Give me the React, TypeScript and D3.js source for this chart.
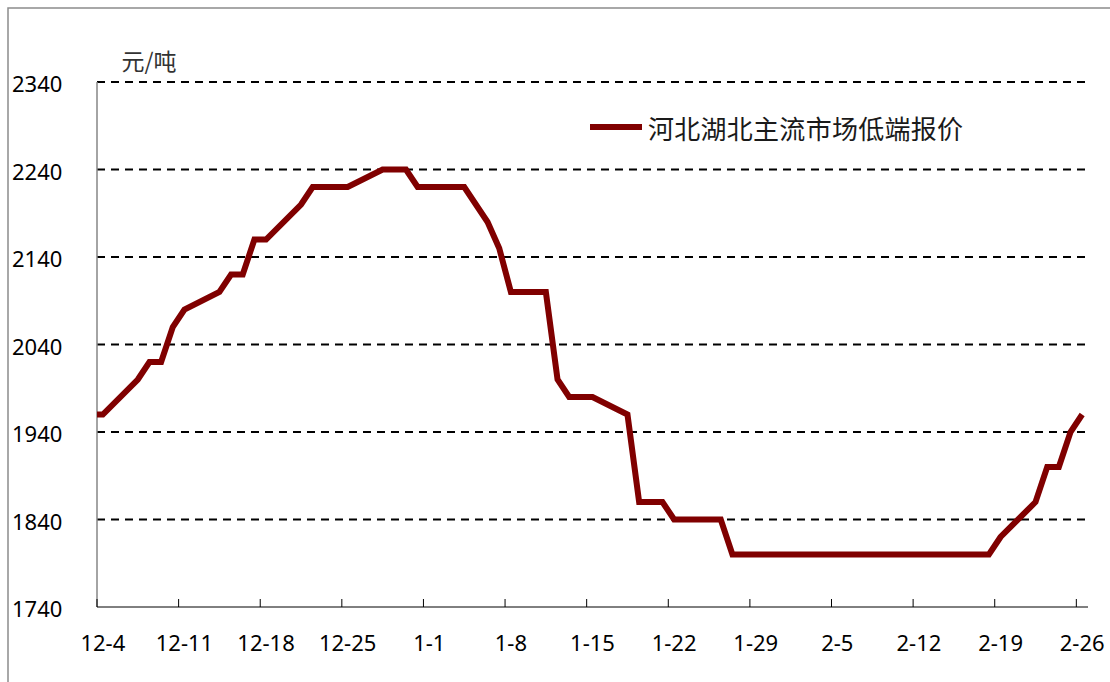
import React from 'react';
import * as d3 from 'd3';

const unitLabel = '元/吨';
const seriesName = '河北湖北主流市场低端报价';

// price points (m-d), straight segments between them
const dates = [
  '12-3', '12-4', '12-7', '12-8', '12-9', '12-10', '12-11', '12-14', '12-15', '12-16',
  '12-17', '12-18', '12-21', '12-22', '12-25', '12-28', '12-30', '12-31', '1-4', '1-6',
  '1-7', '1-8', '1-11', '1-12', '1-13', '1-15', '1-18', '1-19', '1-21', '1-22',
  '1-26', '1-27', '2-18', '2-19', '2-22', '2-23', '2-24', '2-25', '2-26',
];
const prices = [
  1960, 1960, 2000, 2020, 2020, 2060, 2080, 2100, 2120, 2120,
  2160, 2160, 2200, 2220, 2220, 2240, 2240, 2220, 2220, 2180,
  2150, 2100, 2100, 2000, 1980, 1980, 1960, 1860, 1860, 1840,
  1840, 1800, 1800, 1820, 1860, 1900, 1900, 1940, 1960,
];

const xTickLabels = ['12-4', '12-11', '12-18', '12-25', '1-1', '1-8', '1-15', '1-22', '1-29', '2-5', '2-12', '2-19', '2-26'];
const yTicks = [1740, 1840, 1940, 2040, 2140, 2240, 2340];
const xDomain = ['12-4', '2-27'];
const yDomain: [number, number] = [1740, 2340];

const W = 1110;
const H = 682;
const plot = { left: 97, right: 1088, top: 82, bottom: 607 };
const LINE_COLOR = '#800000';
const LATIN = '"Noto Sans", "Open Sans", sans-serif';
const CJK = '"Noto Sans CJK SC", sans-serif';

const parseMD = (s: string) => {
  const [m, d] = s.split('-').map(Number);
  return new Date(m === 12 ? 2019 : 2020, m - 1, d);
};
const midDay = (s: string) => d3.timeHour.offset(parseMD(s), 12);

export default function App() {
  const x = d3.scaleTime()
    .domain(xDomain.map(parseMD))
    .range([plot.left, plot.right]);
  const y = d3.scaleLinear().domain(yDomain).range([plot.bottom, plot.top]);

  const points = dates.map((d, i) => ({ date: midDay(d), value: prices[i] }));
  const line = d3.line<{ date: Date; value: number }>()
    .x(d => x(d.date))
    .y(d => y(d.value));

  return (
    <div style={{ position: 'fixed', left: 0, top: 0, width: W, height: H, background: '#fff' }}>
      <svg width={W} height={H} style={{ display: 'block' }}>
        <defs>
          <clipPath id="plotClip">
            <rect x={plot.left} y={plot.top - 10} width={plot.right - plot.left} height={plot.bottom - plot.top + 10} />
          </clipPath>
        </defs>

        {/* chart frame (runs past the window on right and bottom) */}
        <rect x={8} y={8} width={W + 20} height={H + 20} fill="#fff" stroke="#8c8c8c" strokeWidth={1.5} />

        {/* gridlines */}
        {yTicks.filter(t => t !== yDomain[0]).map(t => (
          <line key={t} x1={plot.left} x2={plot.right - 2} y1={y(t)} y2={y(t)}
            stroke="#000" strokeWidth={2} strokeDasharray="8,6" />
        ))}

        {/* y axis */}
        <line x1={plot.left} x2={plot.left} y1={plot.top} y2={plot.bottom} stroke="#868686" strokeWidth={1.5} />
        {yTicks.map(t => (
          <text key={t} x={12} y={y(t) + 1} dominantBaseline="central" fontFamily={LATIN} fontSize={22} fill="#000">
            {t}
          </text>
        ))}
        <text x={149} y={70} textAnchor="middle" fontFamily={CJK} fontSize={23} fill="#333">{unitLabel}</text>

        {/* x axis */}
        <line x1={plot.left} x2={plot.right} y1={plot.bottom} y2={plot.bottom} stroke="#000" strokeWidth={1} />
        {xTickLabels.map(l => (
          <g key={l}>
            <line x1={x(parseMD(l))} x2={x(parseMD(l))} y1={plot.bottom} y2={plot.bottom - 8} stroke="#000" strokeWidth={1} />
            <text x={x(midDay(l))} y={651} textAnchor="middle" fontFamily={LATIN} fontSize={22} fill="#000">{l}</text>
          </g>
        ))}

        {/* series */}
        <path d={line(points) ?? ''} fill="none" stroke={LINE_COLOR} strokeWidth={6}
          strokeLinejoin="miter" clipPath="url(#plotClip)" />

        {/* legend */}
        <line x1={590} x2={642} y1={127} y2={127} stroke={LINE_COLOR} strokeWidth={6} />
        <text x={648} y={127} dominantBaseline="central" fontFamily={CJK} fontSize={26}
          textLength={315} lengthAdjust="spacing" fill="#1a1a1a">
          {seriesName}
        </text>
      </svg>
    </div>
  );
}
